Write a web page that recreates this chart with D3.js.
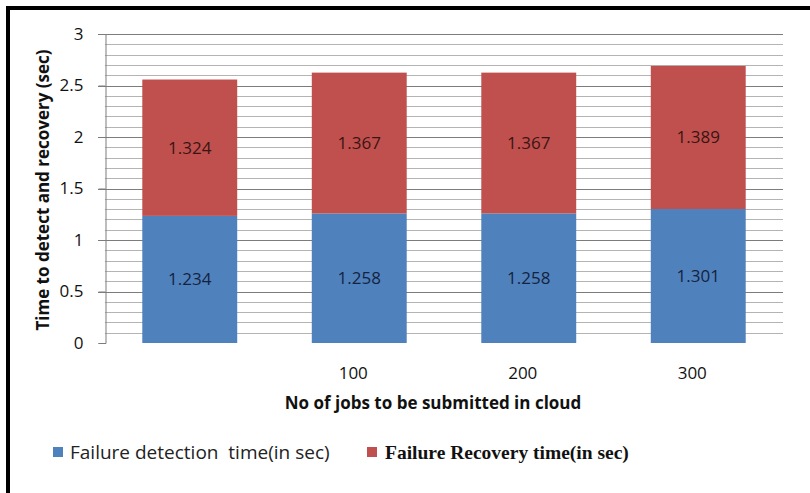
<!DOCTYPE html>
<html>
<head>
<meta charset="utf-8">
<script src="https://cdn.jsdelivr.net/npm/d3@7/dist/d3.min.js"></script>
<style>
  body { margin:0; background:#fff; }
</style>
</head>
<body>
<div id="chart"></div>
<script>
// data
var jobs = ["", "100", "200", "300"];
var detection = [1.234, 1.258, 1.258, 1.301];
var recovery = [1.324, 1.367, 1.367, 1.389];
var yTicks = [0, 0.5, 1, 1.5, 2, 2.5, 3];
var seriesNames = ["Failure detection  time(in sec)", "Failure Recovery time(in sec)"];

var width = 810, height = 493;
var margin = {top:34, right:27, bottom:150, left:105};
var sans = "'Open Sans', 'DejaVu Sans', sans-serif";

var svg = d3.select("#chart").append("svg")
    .attr("width", width).attr("height", height)
    .style("font-family", sans);

// frame (top and left black border only)
svg.append("rect").attr("x", 6).attr("y", 6).attr("width", width - 6).attr("height", 4).attr("fill", "#000");
svg.append("rect").attr("x", 6).attr("y", 6).attr("width", 4).attr("height", height - 6).attr("fill", "#000");

var x = d3.scaleBand().domain(jobs.map(function(d, i){ return i; }))
    .range([margin.left, width - margin.right]).paddingInner(0.44).paddingOuter(0.22);
var y = d3.scaleLinear().domain([0, 3]).range([343, margin.top]);

var g = svg.append("g");

// minor grid every 0.1
g.selectAll(".minor").data(d3.range(1, 30).filter(function(d){ return d % 5 != 0; }).map(function(d){ return d / 10; }))
  .enter().append("line")
    .attr("x1", margin.left).attr("x2", width - margin.right)
    .attr("y1", function(d){ return Math.round(y(d)) + 0.5; })
    .attr("y2", function(d){ return Math.round(y(d)) + 0.5; })
    .attr("stroke", "#b4b4b4").attr("stroke-width", 1);

// major grid
g.selectAll(".major").data(yTicks.slice(1))
  .enter().append("line")
    .attr("x1", margin.left - 7).attr("x2", width - margin.right)
    .attr("y1", function(d){ return Math.round(y(d)) + 0.5; })
    .attr("y2", function(d){ return Math.round(y(d)) + 0.5; })
    .attr("stroke", "#7c7c7c").attr("stroke-width", 1);

// y axis
var yAxis = d3.axisLeft(y).tickValues(yTicks).tickSize(7).tickPadding(15)
    .tickFormat(function(d){ return d; });
var ya = svg.append("g").attr("transform", "translate(" + (margin.left + 0.5) + ",0)").call(yAxis);
ya.select(".domain").attr("stroke", "#7c7c7c");
ya.selectAll(".tick line").attr("stroke", "#7c7c7c");
ya.selectAll(".tick text").style("font-size", "17px").style("font-family", sans).attr("fill", "#111");

// stacked bars
var rows = jobs.map(function(d, i){ return {i:i, det:detection[i], rec:recovery[i]}; });

var bars = svg.append("g").selectAll("g").data(rows).enter().append("g");

bars.append("rect")
    .attr("x", function(d){ return x(d.i); })
    .attr("width", x.bandwidth())
    .attr("y", function(d){ return y(d.det); })
    .attr("height", function(d){ return y(0) - y(d.det); })
    .attr("fill", "#4f81bd");

bars.append("rect")
    .attr("x", function(d){ return x(d.i); })
    .attr("width", x.bandwidth())
    .attr("y", function(d){ return y(d.det + d.rec); })
    .attr("height", function(d){ return y(d.det) - y(d.det + d.rec); })
    .attr("fill", "#c0504d");

bars.append("text")
    .attr("x", function(d){ return x(d.i) + x.bandwidth() / 2; })
    .attr("y", function(d){ return y(d.det / 2) + 6; })
    .attr("text-anchor", "middle").style("font-size", "17px").attr("fill", "#14233f")
    .text(function(d){ return d.det.toFixed(3); });

bars.append("text")
    .attr("x", function(d){ return x(d.i) + x.bandwidth() / 2; })
    .attr("y", function(d){ return y(d.det + d.rec / 2) + 6; })
    .attr("text-anchor", "middle").style("font-size", "17px").attr("fill", "#3a1414")
    .text(function(d){ return d.rec.toFixed(3); });

// x labels
svg.append("g").selectAll("text").data(jobs).enter().append("text")
    .attr("x", function(d, i){ return x(i) + x.bandwidth() / 2 - 6; })
    .attr("y", 379)
    .attr("text-anchor", "middle").style("font-size", "17px").attr("fill", "#111")
    .text(function(d){ return d; });

// axis titles
svg.append("text").attr("x", 433).attr("y", 409)
    .attr("text-anchor", "middle").style("font-size", "17px").attr("font-weight", "bold").attr("fill", "#111")
    .text("No of jobs to be submitted in cloud");

svg.append("text").attr("transform", "translate(49,190) rotate(-90)")
    .attr("text-anchor", "middle").style("font-size", "17px").attr("font-weight", "bold").attr("fill", "#111")
    .text("Time to detect and recovery (sec)");

// legend
var legend = svg.append("g");
legend.append("rect").attr("x", 53).attr("y", 447).attr("width", 10).attr("height", 10).attr("fill", "#4f81bd");
legend.append("text").attr("x", 70).attr("y", 459).style("font-size", "19px").attr("fill", "#222")
    .style("white-space", "pre")
    .text(seriesNames[0]);
legend.append("rect").attr("x", 367).attr("y", 447).attr("width", 10).attr("height", 10).attr("fill", "#c0504d");
legend.append("text").attr("x", 385).attr("y", 459).style("font-size", "19.5px").attr("font-weight", "bold")
    .style("font-family", "'Liberation Serif', 'Times New Roman', serif").attr("fill", "#111")
    .text(seriesNames[1]);
</script>
</body>
</html>
